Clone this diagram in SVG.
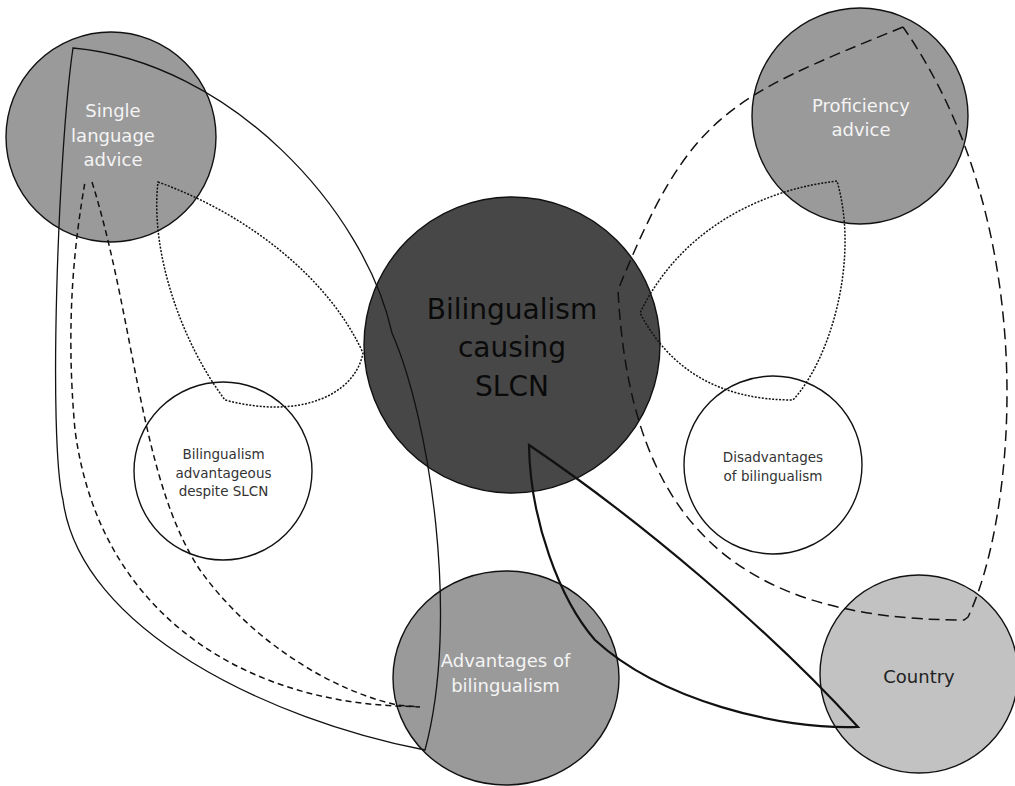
<svg xmlns="http://www.w3.org/2000/svg" width="1015" height="786" viewBox="0 0 1015 786">
<style>
.node{stroke:#111;stroke-width:1.4}
.mid{fill:#9a9a9a}
.dark{fill:#474747}
.light{fill:#c2c2c2}
.white{fill:#fff}
text{font-family:"DejaVu Sans","Liberation Sans",sans-serif;text-anchor:middle}
.tw{fill:#f4f4f4;font-size:18px}
.tb{fill:#0a0a0a;font-size:28px}
.tc{fill:#222;font-size:18px}
.ts{fill:#333;font-size:13.5px}
.c{fill:none;stroke:#111}
.thin{stroke-width:1.3}
.bold{stroke-width:2.2}
.dash{stroke-width:1.5;stroke-dasharray:6 4}
.ldash{stroke-width:1.5;stroke-dasharray:11 6}
.dot{stroke-width:1.5;stroke-dasharray:2 1.5}
</style>
<rect width="1015" height="786" fill="#fff"/>
<g id="node-single">
<circle class="node mid" cx="111" cy="137" r="105"/>
<text class="tw" x="113" y="117">Single</text>
<text class="tw" x="113" y="141.5">language</text>
<text class="tw" x="113" y="166">advice</text>
</g>
<g id="node-proficiency">
<circle class="node mid" cx="860" cy="116" r="108"/>
<text class="tw" x="861" y="112">Proficiency</text>
<text class="tw" x="861" y="136">advice</text>
</g>
<g id="node-slcn">
<circle class="node dark" cx="512" cy="345" r="148"/>
<text class="tb" x="512" y="319">Bilingualism</text>
<text class="tb" x="512" y="357">causing</text>
<text class="tb" x="512" y="396">SLCN</text>
</g>
<g id="node-advantageous">
<circle class="node white" cx="223" cy="471" r="89"/>
<text class="ts" x="223.5" y="459">Bilingualism</text>
<text class="ts" x="223.5" y="477.5">advantageous</text>
<text class="ts" x="223.5" y="496">despite SLCN</text>
</g>
<g id="node-disadvantages">
<circle class="node white" cx="773" cy="465" r="89"/>
<text class="ts" x="773" y="462">Disadvantages</text>
<text class="ts" x="773" y="480.5">of bilingualism</text>
</g>
<g id="node-advantages">
<ellipse class="node mid" cx="506" cy="678" rx="113" ry="107"/>
<text class="tw" x="505.5" y="667">Advantages of</text>
<text class="tw" x="505.5" y="691.5">bilingualism</text>
</g>
<g id="node-country">
<circle class="node light" cx="919" cy="674" r="99"/>
<text class="tc" x="919" y="683">Country</text>
</g>
<g id="connectors">
<path class="c thin" d="M73,48 C230,62 365,210 392,333 C430,420 460,620 425,750 C270,720 80,630 63,500 C48,440 58,150 73,48 Z"/>
<path class="c dash" d="M92,182 C135,320 140,480 200,570 C250,640 330,690 397,705 L420,707 L397,706 C250,700 100,620 75,430 C65,320 75,240 85,182"/>
<path class="c dot" d="M158,182 C250,215 330,280 363,353 C355,395 300,420 225,400 C180,340 150,250 158,182 Z"/>
<path class="c ldash" d="M903,27 C726,99 690,113 618,290 C630,520 734,620 964,620 L968,617 C1015,520 1045,230 903,27"/>
<path class="c dot" d="M837,181 C760,190 680,230 640,313 C670,370 720,400 793,400 C830,360 860,260 837,181 Z"/>
<path class="c bold" d="M529,445 C640,520 770,630 858,727 C780,730 660,700 595,640 C560,600 530,520 529,445 Z"/>
</g>
</svg>
